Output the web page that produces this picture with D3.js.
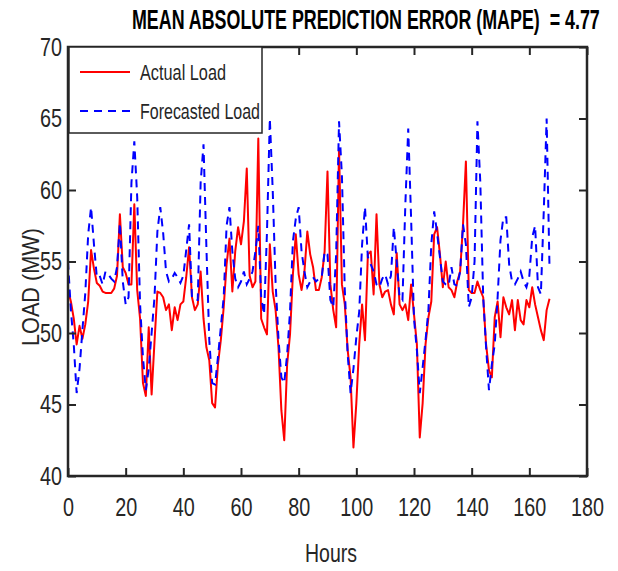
<!DOCTYPE html>
<html>
<head>
<meta charset="utf-8">
<script src="https://d3js.org/d3.v7.min.js"></script>
<style>
  body { margin: 0; background: #fff; }
  text { font-family: "Liberation Sans", Arial, sans-serif; fill: #262626; }
</style>
</head>
<body>
<script>
// hourly load over one week
var hours = d3.range(0, 168);

var actualLoad = [
  53.0, 52.2, 51.0, 49.2, 50.5, 49.6, 50.6, 52.2, 55.8, 54.5,
  53.5, 53.3, 52.9, 52.8, 52.8, 52.8, 53.1, 54.0, 58.3, 54.6,
  54.2, 53.4, 53.4, 59.0, 53.0, 51.0, 46.5, 45.6, 50.4, 45.7,
  49.4, 52.9, 52.8, 52.5, 51.6, 52.0, 50.2, 51.8, 50.9, 52.0,
  52.2, 53.9, 56.0, 52.5, 51.6, 52.0, 54.3, 51.0, 49.0, 48.1,
  45.1, 44.8, 47.8, 49.5, 51.8, 54.8, 56.6, 52.9, 55.7, 57.4,
  56.2, 57.8, 61.5, 54.0, 53.2, 53.6, 63.6, 51.0, 50.4, 49.9,
  56.2, 52.9, 51.6, 49.0, 44.6, 42.5, 47.8, 49.9, 54.1, 56.9,
  54.1, 53.0, 54.3, 57.1, 55.5, 54.6, 53.0, 53.0, 53.9, 55.7,
  61.3, 53.4, 51.6, 50.4, 62.9, 53.4, 52.0, 48.8, 46.9, 42.0,
  45.1, 49.2, 52.0, 49.5, 55.5, 55.7, 52.7, 58.3, 53.4, 52.5,
  52.9, 53.0, 52.0, 51.3, 55.6, 52.0, 51.6, 52.0, 50.9, 53.4,
  51.3, 49.2, 42.7, 45.1, 49.2, 51.1, 52.2, 56.9, 57.4, 55.5,
  53.2, 55.0, 53.2, 53.0, 52.5, 53.6, 54.3, 57.6, 62.0, 53.0,
  52.8, 52.8, 53.6, 53.0, 52.5, 49.2, 47.4, 46.9, 51.1, 52.2,
  49.7, 52.5, 51.8, 51.3, 52.3, 50.2, 52.3, 50.9, 50.6, 52.3,
  51.8, 53.2, 52.0, 51.1, 50.2, 49.5, 51.6, 52.4
];

var forecastLoad = [
  55.0, 51.6, 49.2, 45.8, 47.5, 50.2, 52.8, 56.9, 58.8, 56.2,
  53.9, 54.0, 53.4, 54.3, 54.1, 53.8, 53.6, 54.6, 57.7, 53.6,
  52.0, 52.5, 60.5, 63.4, 59.5, 52.0, 48.3, 46.0, 47.5, 50.0,
  52.5, 57.1, 58.8, 57.0, 54.3, 53.6, 53.8, 54.2, 53.9, 53.5,
  54.0, 55.8, 57.6, 52.5, 52.3, 52.3, 60.5, 63.2, 56.0, 49.5,
  46.5, 46.4, 48.3, 50.4, 52.5, 57.5, 58.8, 55.7, 53.8, 53.2,
  53.6, 54.3, 53.4, 53.8, 54.3, 55.7, 57.5, 52.5, 51.3, 57.0,
  65.0, 60.0, 53.5, 49.6, 46.9, 46.5, 48.5, 51.5, 56.4, 58.0,
  58.8, 55.7, 54.3, 53.2, 53.6, 53.9, 53.6, 53.8, 53.9, 55.7,
  55.5, 52.3, 51.8, 55.5, 64.8, 61.0, 53.0, 48.5, 45.8, 47.5,
  49.7, 51.5, 56.2, 58.8, 55.3, 54.8, 54.3, 53.4, 53.2, 53.8,
  54.1, 53.4, 54.0, 57.4, 55.0, 52.5, 52.3, 59.0, 64.3, 58.0,
  51.0, 48.8, 45.8, 47.6, 49.5, 51.6, 56.2, 58.5, 57.0, 55.3,
  53.6, 53.4, 53.3, 54.6, 53.4, 53.3, 54.3, 57.6, 56.2, 51.8,
  52.5, 55.0, 64.8, 60.5, 52.5, 49.0, 46.0, 47.8, 49.2, 52.5,
  56.5, 58.1, 58.1, 54.8, 53.6, 53.4, 53.8, 54.3, 53.6, 53.2,
  54.0, 56.7, 57.5, 53.2, 52.7, 58.5, 65.0, 54.5
];

var xTicks = [0, 20, 40, 60, 80, 100, 120, 140, 160, 180];
var yTicks = [40, 45, 50, 55, 60, 65, 70];
var seriesNames = ["Actual Load", "Forecasted Load"];

var width = 618, height = 571;
var plotLeft = 68, plotRight = 587, plotTop = 47, plotBottom = 476;
var axisColor = "#262626";

var svg = d3.select("body").append("svg")
    .attr("width", width)
    .attr("height", height);

var x = d3.scaleLinear().domain([0, 180]).range([plotLeft, plotRight]);
var y = d3.scaleLinear().domain([40, 70]).range([plotBottom, plotTop]);

// lines
var line = function(vals) {
  return d3.line()
    .x(function(d, i) { return x(hours[i]); })
    .y(function(d) { return y(d); })(vals);
};

svg.append("path")
    .attr("d", line(actualLoad))
    .attr("fill", "none")
    .attr("stroke", "#ff0000")
    .attr("stroke-width", 2)
    .attr("stroke-linejoin", "round");

svg.append("path")
    .attr("d", line(forecastLoad))
    .attr("fill", "none")
    .attr("stroke", "#0000ff")
    .attr("stroke-width", 2)
    .attr("stroke-dasharray", "8,6");

// axes
function styleAxis(g) {
  g.select(".domain").remove();
  g.selectAll(".tick line").attr("stroke", axisColor).attr("stroke-width", 2);
  g.selectAll(".tick text")
      .attr("fill", axisColor)
      .style("font-size", "26px")
      .attr("textLength", function(d) { return String(d).length * 11; })
      .attr("lengthAdjust", "spacingAndGlyphs");
}

svg.append("g")
    .attr("transform", "translate(0," + plotBottom + ")")
    .call(d3.axisBottom(x).tickValues(xTicks).tickSizeInner(-8).tickSizeOuter(0).tickPadding(22))
    .call(styleAxis);

svg.append("g")
    .attr("transform", "translate(" + plotLeft + ",0)")
    .call(d3.axisLeft(y).tickValues(yTicks).tickSizeInner(-8).tickSizeOuter(0).tickPadding(6))
    .call(styleAxis);

svg.append("g")
    .attr("transform", "translate(0," + plotTop + ")")
    .call(d3.axisTop(x).tickValues(xTicks).tickSizeInner(-8).tickSizeOuter(0).tickFormat(""))
    .call(styleAxis);

svg.append("g")
    .attr("transform", "translate(" + plotRight + ",0)")
    .call(d3.axisRight(y).tickValues(yTicks).tickSizeInner(-8).tickSizeOuter(0).tickFormat(""))
    .call(styleAxis);

// frame
svg.append("rect")
    .attr("x", plotLeft).attr("y", plotTop)
    .attr("width", plotRight - plotLeft).attr("height", plotBottom - plotTop)
    .attr("fill", "none")
    .attr("stroke", axisColor)
    .attr("stroke-width", 2.5);

// legend
var legend = svg.append("g");
legend.append("rect")
    .attr("x", 69).attr("y", 47)
    .attr("width", 193).attr("height", 86)
    .attr("fill", "#fff")
    .attr("stroke", axisColor)
    .attr("stroke-width", 1.5);

var legendColors = ["#ff0000", "#0000ff"];
var legendDash = [null, "8,6"];
var legendY = [72, 111];
var legendWidths = [86, 120];
seriesNames.forEach(function(name, i) {
  legend.append("line")
      .attr("x1", 80).attr("x2", 130)
      .attr("y1", legendY[i]).attr("y2", legendY[i])
      .attr("stroke", legendColors[i])
      .attr("stroke-width", 2)
      .attr("stroke-dasharray", legendDash[i]);
  legend.append("text")
      .attr("x", 140).attr("y", legendY[i] + 8)
      .style("font-size", "22px")
      .attr("textLength", legendWidths[i])
      .attr("lengthAdjust", "spacingAndGlyphs")
      .text(name);
});

// title: squeezed horizontally to the narrow look of the original
var title = svg.append("text")
    .attr("x", 0).attr("y", 0)
    .style("font-size", "28px")
    .style("font-weight", "bold")
    .style("fill", "#000")
    .style("white-space", "pre")
    .text("MEAN ABSOLUTE PREDICTION ERROR (MAPE)  = 4.77");
var titleLen = title.node().getComputedTextLength();
title.attr("transform", "translate(132,29) scale(" + (468 / titleLen) + ",1)");

var hoursLabel = svg.append("text")
    .attr("x", 0).attr("y", 0)
    .style("font-size", "26px")
    .text("Hours");
var hoursLen = hoursLabel.node().getComputedTextLength();
hoursLabel.attr("transform", "translate(305,562) scale(" + (52 / hoursLen) + ",1)");

svg.append("text")
    .attr("transform", "translate(39,287) rotate(-90)")
    .attr("text-anchor", "middle")
    .style("font-size", "24px")
    .attr("textLength", 118)
    .attr("lengthAdjust", "spacingAndGlyphs")
    .text("LOAD (MW)");
</script>
</body>
</html>
